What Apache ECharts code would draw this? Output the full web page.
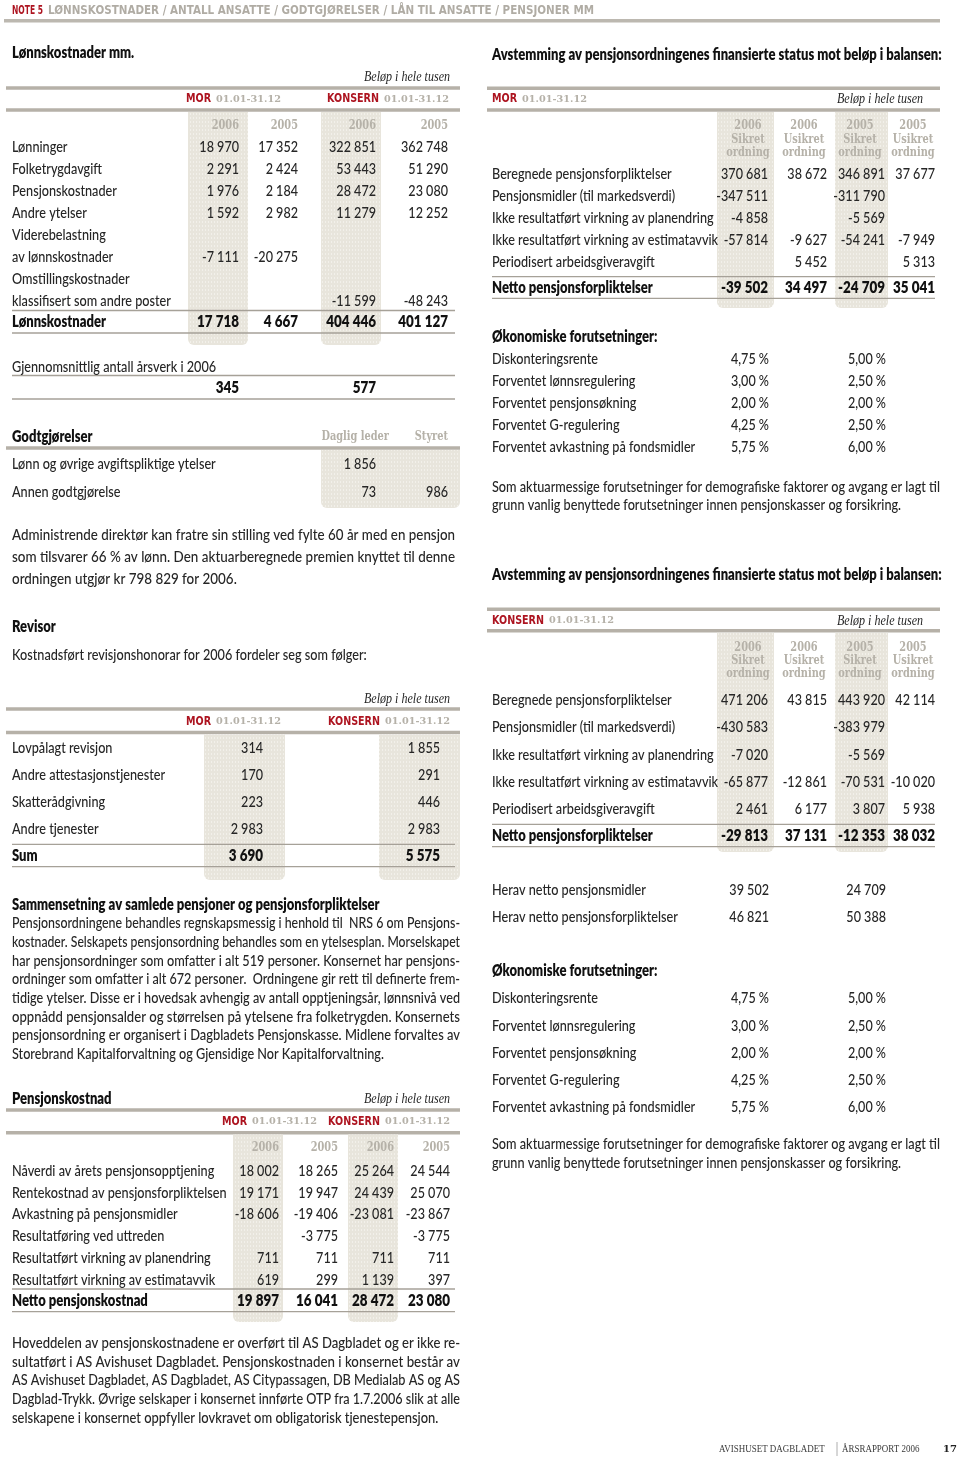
<!DOCTYPE html>
<html><head><meta charset="utf-8">
<script src="https://cdn.jsdelivr.net/npm/echarts@6/dist/echarts.min.js"></script>
<style>html,body{margin:0;padding:0;background:#fff}#c{width:960px;height:1462px}</style>
</head><body><div id="c"></div>
<script>
// ================= DATA =================
const noteLabel = 'NOTE 5';
const noteTitle = 'LØNNSKOSTNADER / ANTALL ANSATTE / GODTGJØRELSER / LÅN TIL ANSATTE / PENSJONER MM';
const amountNote = 'Beløp i hele tusen';
const periodLabel = '01.01-31.12';
const entityMor = 'MOR';
const entityKonsern = 'KONSERN';

// Lønnskostnader
const lkTitle = 'Lønnskostnader mm.';
const lkYears = ['2006', '2005', '2006', '2005'];
const lkRows = ['Lønninger', 'Folketrygdavgift', 'Pensjonskostnader', 'Andre ytelser', 'Viderebelastning', 'av lønnskostnader', 'Omstillingskostnader', 'klassifisert som andre poster'];
const lkMor2006 = [18970, 2291, 1976, 1592, null, -7111, null, null];
const lkMor2005 = [17352, 2424, 2184, 2982, null, -20275, null, null];
const lkKons2006 = [322851, 53443, 28472, 11279, null, null, null, -11599];
const lkKons2005 = [362748, 51290, 23080, 12252, null, null, null, -48243];
const lkTotalLabel = 'Lønnskostnader';
const lkTotals = [17718, 4667, 404446, 401127];

const aarsverkLabel = 'Gjennomsnittlig antall årsverk i 2006';
const aarsverk = [345, 577];

const godtTitle = 'Godtgjørelser';
const godtCols = ['Daglig leder', 'Styret'];
const godtRows = ['Lønn og øvrige avgiftspliktige ytelser', 'Annen godtgjørelse'];
const godtDagligLeder = [1856, 73];
const godtStyret = [null, 986];

const adminText = [
  'Administrende direktør kan fratre sin stilling ved fylte 60 år med en pensjon',
  'som tilsvarer 66 % av lønn. Den aktuarberegnede premien knyttet til denne',
  'ordningen utgjør kr 798 829 for 2006.'
];

// Revisor
const revTitle = 'Revisor';
const revIntro = 'Kostnadsført revisjonshonorar for 2006 fordeler seg som følger:';
const revRows = ['Lovpålagt revisjon', 'Andre attestasjonstjenester', 'Skatterådgivning', 'Andre tjenester'];
const revMor = [314, 170, 223, 2983];
const revKons = [1855, 291, 446, 2983];
const revTotalLabel = 'Sum';
const revTotals = [3690, 5575];

const samTitle = 'Sammensetning av samlede pensjoner og pensjonsforpliktelser';
const samText = [
  'Pensjonsordningene behandles regnskapsmessig i henhold til  NRS 6 om Pensjons-',
  'kostnader. Selskapets pensjonsordning behandles som en ytelsesplan. Morselskapet',
  'har pensjonsordninger som omfatter i alt 519 personer. Konsernet har pensjons-',
  'ordninger som omfatter i alt 672 personer.  Ordningene gir rett til definerte frem-',
  'tidige ytelser. Disse er i hovedsak avhengig av antall opptjeningsår, lønnsnivå ved',
  'oppnådd pensjonsalder og størrelsen på ytelsene fra folketrygden. Konsernets',
  'pensjonsordning er organisert i Dagbladets Pensjonskasse. Midlene forvaltes av',
  'Storebrand Kapitalforvaltning og Gjensidige Nor Kapitalforvaltning.'
];

// Pensjonskostnad
const pkTitle = 'Pensjonskostnad';
const pkRows = ['Nåverdi av årets pensjonsopptjening', 'Rentekostnad av pensjonsforpliktelsen', 'Avkastning på pensjonsmidler', 'Resultatføring ved uttreden', 'Resultatført virkning av planendring', 'Resultatført virkning av estimatavvik'];
const pkMor2006 = [18002, 19171, -18606, null, 711, 619];
const pkMor2005 = [18265, 19947, -19406, -3775, 711, 299];
const pkKons2006 = [25264, 24439, -23081, null, 711, 1139];
const pkKons2005 = [24544, 25070, -23867, -3775, 711, 397];
const pkTotalLabel = 'Netto pensjonskostnad';
const pkTotals = [19897, 16041, 28472, 23080];

const endText = [
  'Hoveddelen av pensjonskostnadene er overført til AS Dagbladet og er ikke re-',
  'sultatført i AS Avishuset Dagbladet. Pensjonskostnaden i konsernet består av',
  'AS Avishuset Dagbladet, AS Dagbladet, AS Citypassagen, DB Medialab AS og AS',
  'Dagblad-Trykk. Øvrige selskaper i konsernet innførte OTP fra 1.7.2006 slik at alle',
  'selskapene i konsernet oppfyller lovkravet om obligatorisk tjenestepensjon.'
];

// Avstemming
const avTitle = 'Avstemming av pensjonsordningenes finansierte status mot beløp i balansen:';
const avHeaders = [['2006', 'Sikret', 'ordning'], ['2006', 'Usikret', 'ordning'], ['2005', 'Sikret', 'ordning'], ['2005', 'Usikret', 'ordning']];
const avRows = ['Beregnede pensjonsforpliktelser', 'Pensjonsmidler (til markedsverdi)', 'Ikke resultatført virkning av planendring', 'Ikke resultatført virkning av estimatavvik', 'Periodisert arbeidsgiveravgift'];
const avTotalLabel = 'Netto pensjonsforpliktelser';
const avMorSikret2006 = [370681, -347511, -4858, -57814, null];
const avMorUsikret2006 = [38672, null, null, -9627, 5452];
const avMorSikret2005 = [346891, -311790, -5569, -54241, null];
const avMorUsikret2005 = [37677, null, null, -7949, 5313];
const avMorTotals = [-39502, 34497, -24709, 35041];
const avKonsSikret2006 = [471206, -430583, -7020, -65877, 2461];
const avKonsUsikret2006 = [43815, null, null, -12861, 6177];
const avKonsSikret2005 = [443920, -383979, -5569, -70531, 3807];
const avKonsUsikret2005 = [42114, null, null, -10020, 5938];
const avKonsTotals = [-29813, 37131, -12353, 38032];

const heravRows = ['Herav netto pensjonsmidler', 'Herav netto pensjonsforpliktelser'];
const herav2006 = [39502, 46821];
const herav2005 = [24709, 50388];

const okTitle = 'Økonomiske forutsetninger:';
const okRows = ['Diskonteringsrente', 'Forventet lønnsregulering', 'Forventet pensjonsøkning', 'Forventet G-regulering', 'Forventet avkastning på fondsmidler'];
const okMor2006 = [4.75, 3.00, 2.00, 4.25, 5.75];
const okMor2005 = [5.00, 2.50, 2.00, 2.50, 6.00];
const okKons2006 = [4.75, 3.00, 2.00, 4.25, 5.75];
const okKons2005 = [5.00, 2.50, 2.00, 2.50, 6.00];
const aktText = [
  'Som aktuarmessige forutsetninger for demografiske faktorer og avgang er lagt til',
  'grunn vanlig benyttede forutsetninger innen pensjonskasser og forsikring.'
];

const footerLeft = 'AVISHUSET DAGBLADET';
const footerRight = 'ÅRSRAPPORT 2006';
const pageNo = '17';

// ================= STYLE / HELPERS =================
const C_TEXT = '#262626', C_BOLD = '#111', C_GRAY = '#b5b1a8', C_RED = '#ad1420',
      C_RULE = '#b6b1a8', C_THIN = '#a6a198';
const F_BODY = '500 16px Lato', F_BOLD = '800 16px Lato', F_PARA = '500 15px Lato';
const mctx = document.createElement('canvas').getContext('2d');
function tw(t, font) { mctx.font = font; return mctx.measureText(t).width; }
function mkStyle(font, fill, samples, k) {
  let m = 0, t = 0;
  samples.forEach(s => { m += tw(s[0], font); t += s[1]; });
  return { font, fill, sx: (k || 1) * t / m };
}
const S_BODY = mkStyle(F_BODY, C_TEXT, [['klassifisert som andre poster', 169], ['Rentekostnad av pensjonsforpliktelsen', 216], ['Beregnede pensjonsforpliktelser', 181], ['Lønn og øvrige avgiftspliktige ytelser', 217], ['Ikke resultatført virkning av estimatavvik', 221], ['Ikke resultatført virkning av planendring', 219]], 0.985);
const S_NUM = mkStyle(F_BODY, C_TEXT, [['322 851', 49], ['-347 511', 50], ['-57 814', 41], ['18 970', 41], ['2 291', 34]]);
const S_BOLD = mkStyle(F_BOLD, C_BOLD, [['Avstemming av pensjonsordningenes finansierte status mot beløp i balansen:', 440], ['Sammensetning av samlede pensjoner og pensjonsforpliktelser', 370], ['Netto pensjonskostnad', 134], ['Netto pensjonsforpliktelser', 170]]);
const S_BNUM = mkStyle(F_BOLD, C_BOLD, [['17 718', 41], ['404 446', 51], ['-39 502', 46], ['34 497', 43]]);
const S_HEAD = mkStyle('bold 12.5px "DejaVu Serif"', C_GRAY, [['ordning', 41.7], ['Usikret', 40], ['2006', 31], ['Daglig leder', 66]]);
const S_DATE = mkStyle('bold 10px "DejaVu Serif"', C_GRAY, [['01.01-31.12', 65]]);
const S_ENT = mkStyle('bold 12px "DejaVu Sans"', C_RED, [['KONSERN', 52], ['MOR', 25]]);
const S_ITAL = mkStyle('italic 15px "Liberation Serif"', C_TEXT, [['Beløp i hele tusen', 86]]);
const S_NOTE_R = mkStyle('bold 12px "DejaVu Sans"', C_RED, [['NOTE 5', 31]]);
const S_NOTE_G = mkStyle('bold 12px "DejaVu Sans"', '#b0aca4', [[noteTitle, 546]]);
const S_FOOT = mkStyle('10px "Liberation Serif"', '#3a3a3a', [[footerLeft, 112], [footerRight, 71]]);
const S_PAGE = { font: 'bold 10px "DejaVu Serif"', fill: '#222', sx: 1 };

const els = [];
function txt(x, y, text, st, align) {
  align = align || 'left';
  els.push({ type: 'text', x: x, y: y, scaleX: st.sx, z: 3, silent: true,
    style: { text: text, font: st.font, fill: st.fill, align: align, textAlign: align, verticalAlign: 'middle', textVerticalAlign: 'middle' } });
}
function rect(x, y, w, h, fill, r) {
  els.push({ type: 'rect', z: 1, silent: true, shape: { x: x, y: y, width: w, height: h, r: r || 0 }, style: { fill: fill } });
}
function thick(x1, x2, y) { rect(x1, y - 1.75, x2 - x1, 3.5, C_RULE); }
function thin(x1, x2, y) { els.push({ type: 'line', z: 2, silent: true, shape: { x1: x1, y1: y, x2: x2, y2: y }, style: { stroke: C_THIN, lineWidth: 1.3 } }); }
function fmt(v) { if (v == null) return ''; const s = Math.abs(v).toString().replace(/\B(?=(\d{3})+(?!\d))/g, ' '); return (v < 0 ? '-' : '') + s; }
function pct(v) { return v.toFixed(2).replace('.', ',') + ' %'; }

// band pattern
const pc = document.createElement('canvas'); pc.width = 3; pc.height = 4;
const pcx = pc.getContext('2d'); pcx.fillStyle = '#e8e5dc'; pcx.fillRect(0, 0, 3, 4);
pcx.fillStyle = '#f2f0ea'; pcx.fillRect(1, 1, 1, 2);
const BAND = { image: pc, repeat: 'repeat' };
function band(x1, x2, y1, y2) { rect(x1, y1, x2 - x1, y2 - y1, BAND, [0, 0, 6, 6]); }

function rowsBlock(labels, cols, y0, pitch, xl, rights, st, nst, f) {
  f = f || fmt;
  labels.forEach((lab, i) => {
    const y = y0 + i * pitch;
    txt(xl, y, lab, st, 'left');
    cols.forEach((c, j) => { if (c[i] != null) txt(rights[j], y, f(c[i]), nst, 'right'); });
  });
}
function para(lines, x, y0, pitch, width, font) {
  const scales = [];
  lines.forEach((l, i) => { if (i < lines.length - 1) scales.push(width / tw(l, font)); });
  const avg = scales.reduce((a, b) => a + b, 0) / scales.length;
  lines.forEach((l, i) => {
    const s = (i < lines.length - 1) ? width / tw(l, font) : avg;
    txt(x, y0 + i * pitch, l, { font: font, fill: C_TEXT, sx: s }, 'left');
  });
}
function entity(x, y, name) {
  txt(x, y, name, S_ENT, 'left');
  txt(x + tw(name, S_ENT.font) * S_ENT.sx + 5, y, periodLabel, S_DATE, 'left');
}

// ================= PAGE =================
// header
txt(12, 11, noteLabel, S_NOTE_R);
txt(12 + tw(noteLabel, S_NOTE_R.font) * S_NOTE_R.sx + 5, 11, noteTitle, S_NOTE_G);
rect(4, 19, 936, 3.5, '#bcb8b0');

// --- Lønnskostnader ---
txt(12, 53, lkTitle, S_BOLD);
txt(450, 77, amountNote, S_ITAL, 'right');
thick(6, 460, 88);
entity(186, 99, entityMor);
entity(327, 99, entityKonsern);
thick(6, 460, 110);
band(188, 248, 112, 345); band(321, 381, 112, 345);
const lkR = [239, 298, 376, 448];
lkYears.forEach((y, i) => txt(lkR[i], 126, y, S_HEAD, 'right'));
rowsBlock(lkRows, [lkMor2006, lkMor2005, lkKons2006, lkKons2005], 147.3, 21.9, 12, lkR, S_BODY, S_NUM);
thin(12, 455, 310.5);
rowsBlock([lkTotalLabel], lkTotals.map(v => [v]), 322, 0, 12, lkR, S_BOLD, S_BNUM);
thin(12, 455, 333);

txt(12, 366.5, aarsverkLabel, S_BODY);
thin(12, 455, 375.5);
txt(239, 388, fmt(aarsverk[0]), S_BNUM, 'right');
txt(376, 388, fmt(aarsverk[1]), S_BNUM, 'right');
thin(12, 455, 399);

txt(12, 437, godtTitle, S_BOLD);
txt(389, 437, godtCols[0], S_HEAD, 'right');
txt(448, 437, godtCols[1], S_HEAD, 'right');
thick(6, 460, 448);
band(321, 460, 450, 508);
rowsBlock(godtRows, [godtDagligLeder, godtStyret], 464, 27.5, 12, [376, 448], S_BODY, S_NUM);

para(adminText, 12, 535, 21.7, 443, F_BODY);

// --- Revisor ---
txt(12, 627, revTitle, S_BOLD);
txt(12, 655, revIntro, S_BODY);
txt(450, 699, amountNote, S_ITAL, 'right');
thick(6, 460, 709);
entity(186, 721.5, entityMor);
entity(328, 721.5, entityKonsern);
thick(6, 460, 732.5);
band(204, 285, 734.5, 880); band(379, 460, 734.5, 880);
rowsBlock(revRows, [revMor, revKons], 747.7, 27, 12, [263, 440], S_BODY, S_NUM);
thin(12, 455, 844.3);
rowsBlock([revTotalLabel], revTotals.map(v => [v]), 855.7, 0, 12, [263, 440], S_BOLD, S_BNUM);
thin(12, 455, 866.7);

// --- Sammensetning ---
txt(12, 905, samTitle, S_BOLD);
para(samText, 12, 923.3, 18.68, 448, F_PARA);

// --- Pensjonskostnad ---
txt(12, 1099, pkTitle, S_BOLD);
txt(450, 1099, amountNote, S_ITAL, 'right');
thick(6, 460, 1110);
entity(222, 1121.7, entityMor);
entity(328, 1121.7, entityKonsern);
thick(6, 460, 1132.7);
band(233, 283, 1134.5, 1322); band(348, 398, 1134.5, 1322);
const pkR = [279, 338, 394, 450];
lkYears.forEach((y, i) => txt(pkR[i], 1148, y, S_HEAD, 'right'));
rowsBlock(pkRows, [pkMor2006, pkMor2005, pkKons2006, pkKons2005], 1171, 21.67, 12, pkR, S_BODY, S_NUM);
thin(12, 455, 1289);
rowsBlock([pkTotalLabel], pkTotals.map(v => [v]), 1301, 0, 12, pkR, S_BOLD, S_BNUM);
thin(12, 455, 1311.7);

para(endText, 12, 1343, 18.8, 448, F_PARA);

// footer
txt(719, 1449, footerLeft, S_FOOT);
els.push({ type: 'line', z: 2, silent: true, shape: { x1: 837, y1: 1442, x2: 837, y2: 1456 }, style: { stroke: '#999', lineWidth: 0.8 } });
txt(842, 1449, footerRight, S_FOOT);
txt(943, 1449, pageNo, S_PAGE);

// --- Right: Avstemming ---
const avR = [768, 827, 885, 935];
const avC = [748, 804, 860, 913];
function avTable(yTitle, yRule1, yEnt, yRule2, bandY2, hdrY, rowY0, pitch, totY, thin1, thin2, ent, cols, totals) {
  txt(492, yTitle, avTitle, S_BOLD);
  thick(487, 940, yRule1);
  entity(492, yEnt, ent);
  txt(923, yEnt, amountNote, S_ITAL, 'right');
  thick(487, 940, yRule2);
  band(717, 774, yRule2 + 2, bandY2); band(835, 888, yRule2 + 2, bandY2);
  avHeaders.forEach((h, i) => h.forEach((t, k) => txt(avC[i], hdrY[k], t, S_HEAD, 'center')));
  rowsBlock(avRows, cols, rowY0, pitch, 492, avR, S_BODY, S_NUM);
  thin(492, 935, thin1);
  rowsBlock([avTotalLabel], totals.map(v => [v]), totY, 0, 492, avR, S_BOLD, S_BNUM);
  thin(492, 935, thin2);
}
avTable(55, 88.3, 99.3, 110, 308, [126, 139.3, 152.7], 174, 21.9, 288.3, 276.7, 298.3, entityMor,
  [avMorSikret2006, avMorUsikret2006, avMorSikret2005, avMorUsikret2005], avMorTotals);

txt(492, 337.3, okTitle, S_BOLD);
rowsBlock(okRows, [okMor2006, okMor2005], 359.3, 21.85, 492, [769, 886], S_BODY, S_NUM, pct);
para(aktText, 492, 486.7, 18.5, 448, F_PARA);

avTable(575, 609.3, 620.7, 630.7, 852, [647.3, 660.7, 674], 700, 27.2, 836, 824.3, 846.7, entityKonsern,
  [avKonsSikret2006, avKonsUsikret2006, avKonsSikret2005, avKonsUsikret2005], avKonsTotals);

rowsBlock(heravRows, [herav2006, herav2005], 890, 26.7, 492, [769, 886], S_BODY, S_NUM);
txt(492, 970.7, okTitle, S_BOLD);
rowsBlock(okRows, [okKons2006, okKons2005], 998.3, 27.25, 492, [769, 886], S_BODY, S_NUM, pct);
para(aktText, 492, 1144, 18.7, 448, F_PARA);

const chart = echarts.init(document.getElementById('c'), null, { renderer: 'canvas', width: 960, height: 1462 });
chart.setOption({ animation: false, backgroundColor: '#fff', graphic: { elements: els } });
</script>
</body></html>
